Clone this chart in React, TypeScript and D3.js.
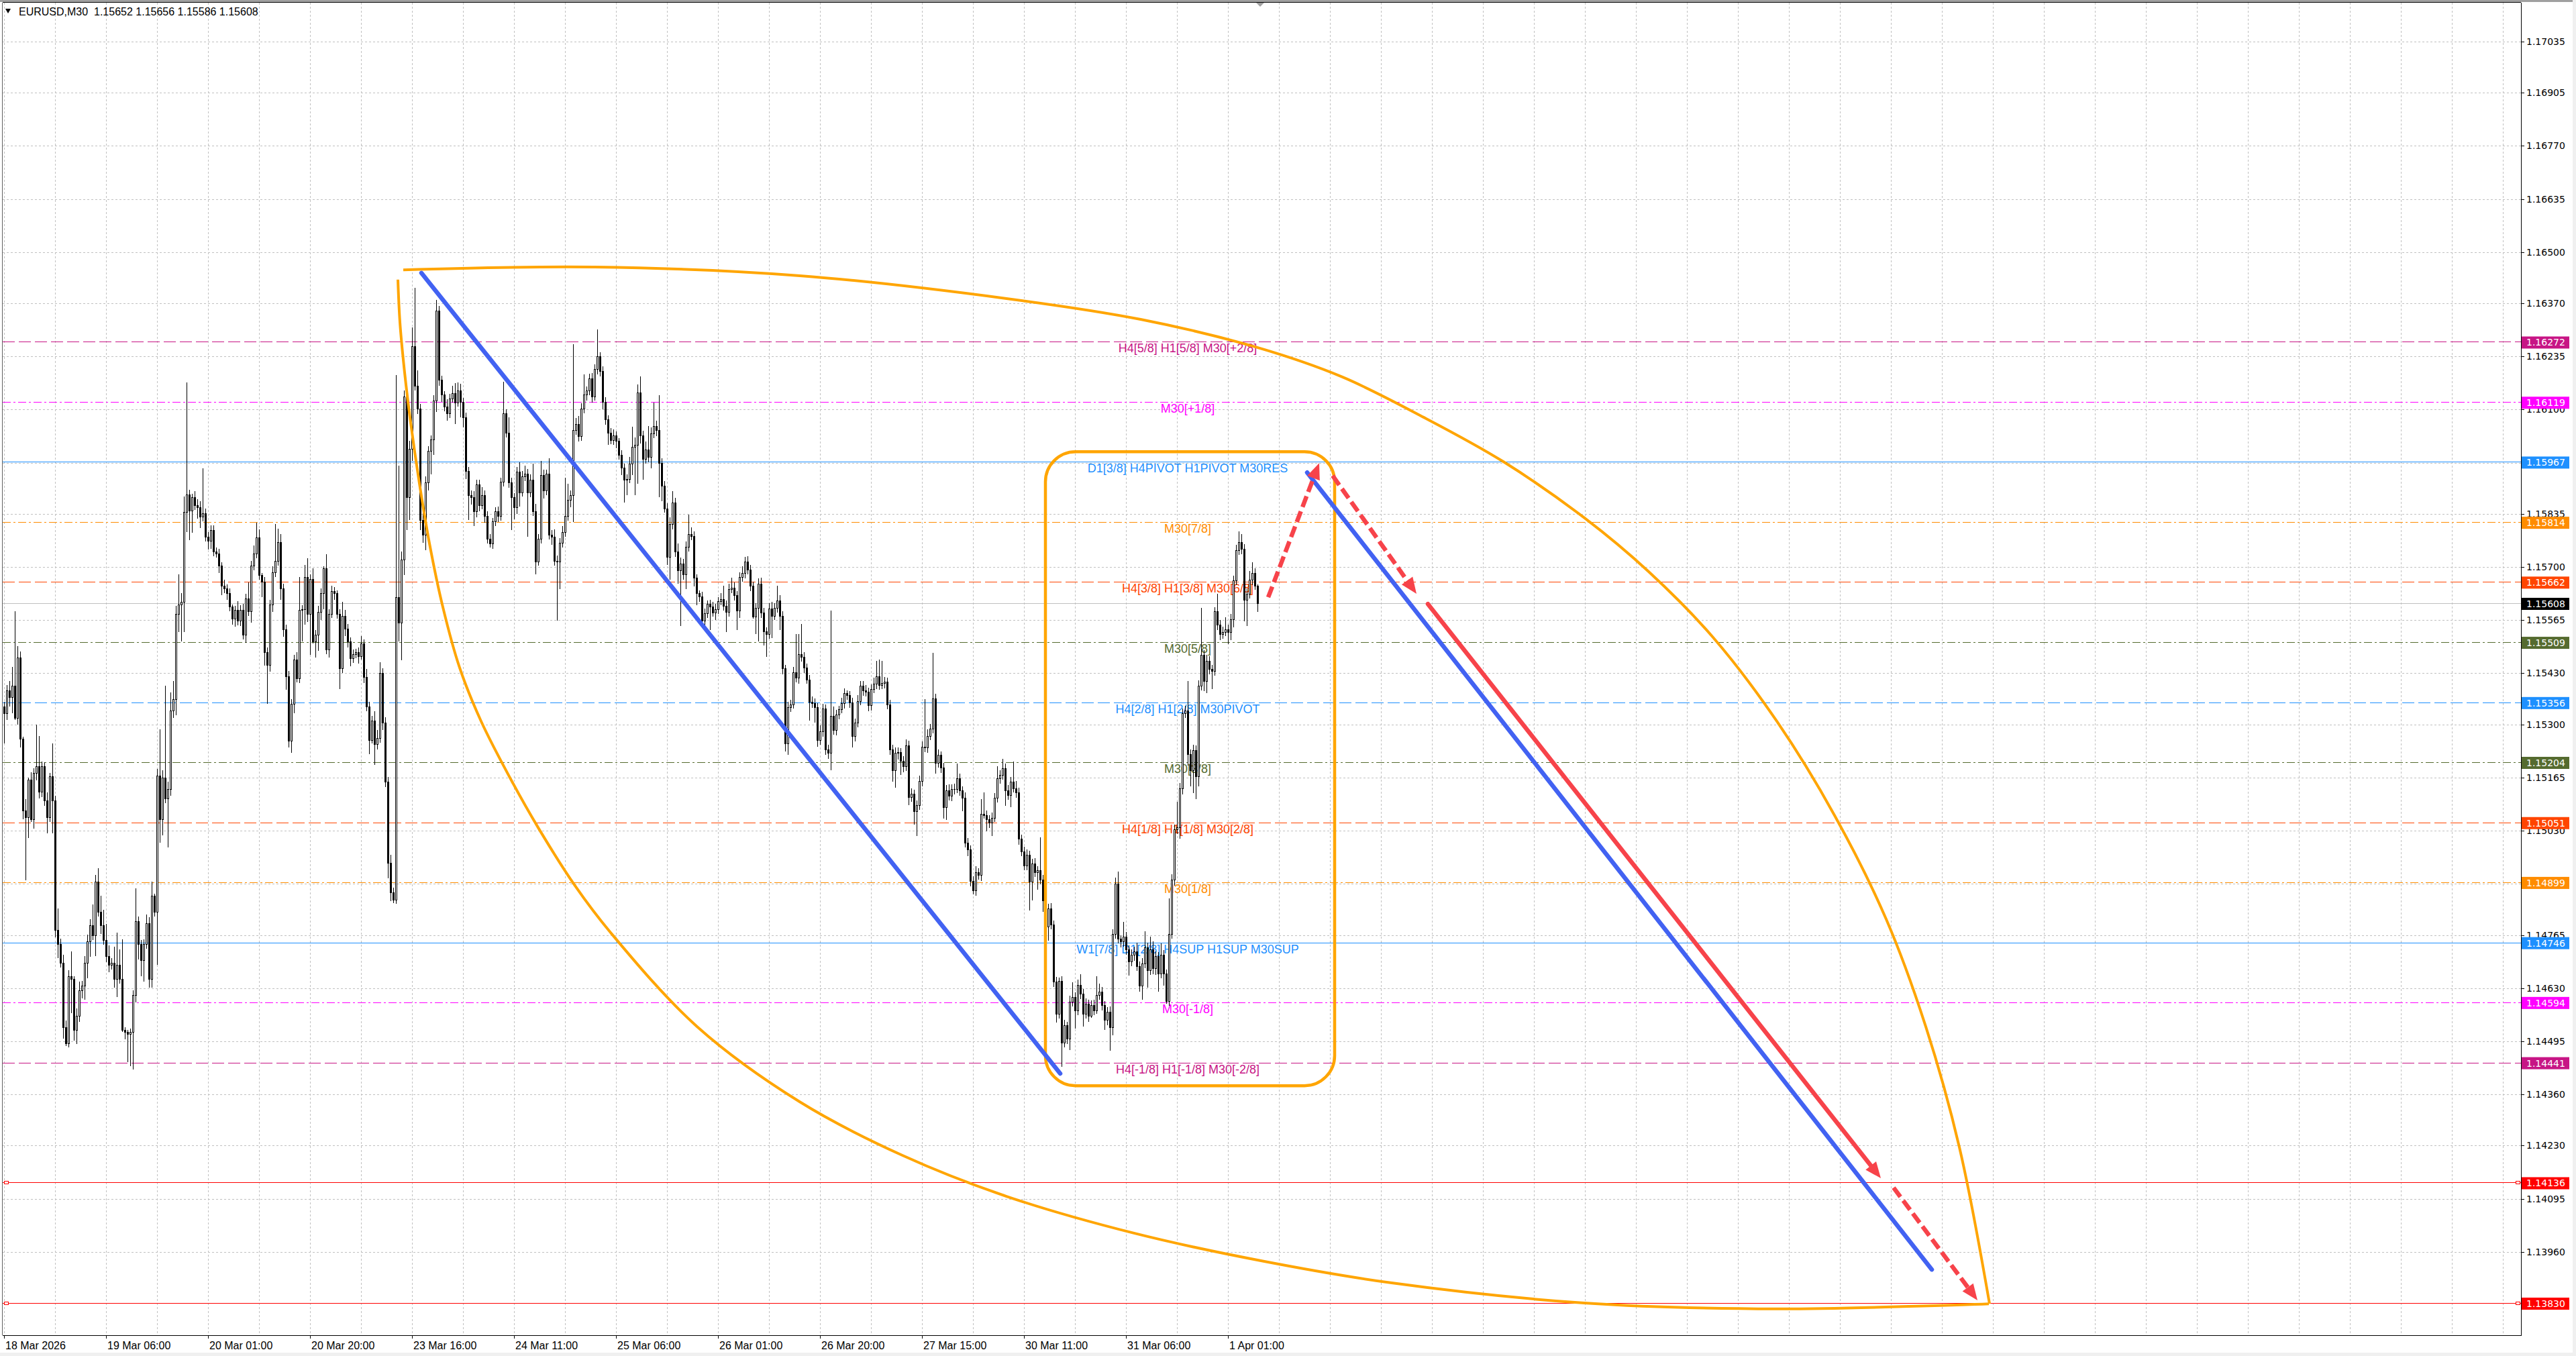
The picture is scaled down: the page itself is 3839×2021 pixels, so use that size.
import * as d3 from "d3";

const WIDTH = 3839;
const HEIGHT = 2021;
// plot frame: right edge is the price axis, bottom edge the time axis
const PL = 4, PT = 4, PR = 3757, PB = 1990;

const FONT = "'Liberation Sans', Arial, sans-serif";
const AXIS_FONT = "'DejaVu Sans', Verdana, sans-serif";

// M30 candles, prices in points (0.00001) above 1.14000
const BASE = 1.14;
const firstOpenPoint = 1346;
const closePoints = [
  1329,1387,1370,1399,1317,1470,1264,1082,1065,1159,1059,1176,1194,1129,1194,1106,1065,1168,1106,777,
  742,695,530,489,660,654,524,560,624,636,695,748,789,765,900,824,789,753,712,689,
  695,654,689,654,524,518,513,518,613,800,742,701,742,795,654,865,824,1170,1059,1164,
  1112,1135,1335,1364,1581,1605,1611,1839,1884,1843,1878,1857,1851,1828,1837,1777,1766,1793,1740,1734,
  1704,1652,1646,1634,1599,1569,1591,1564,1591,1528,1620,1587,1704,1734,1775,1679,1663,1484,1452,1605,
  1687,1716,1763,1646,1542,1423,1258,1352,1464,1417,1591,1593,1675,1581,1669,1511,1528,1586,1633,1697,
  1490,1580,1639,1633,1580,1442,1575,1543,1511,1468,1479,1484,1474,1506,1421,1346,1261,1309,1250,1266,
  1431,1304,1155,949,873,854,1623,1559,1719,2133,1878,2000,2261,2160,2102,1820,1782,1915,1995,2024,
  2123,2352,2176,2139,2107,2091,2128,2141,2117,2149,2120,2080,1944,1883,1878,1841,1910,1857,1883,1830,
  1772,1760,1816,1841,1830,1917,2091,2041,1915,1878,1851,1942,1889,1931,1937,1889,1921,1841,1713,1772,
  1933,1894,1937,1782,1777,1715,1713,1761,1788,1830,1871,1883,2048,2064,2032,2102,2139,2149,2179,2133,
  2203,2235,2197,2120,2075,2041,2022,2035,2020,1985,1953,1921,1923,1963,2006,2011,2144,2034,1975,1998,
  1980,2039,2058,2048,1965,1907,1848,1726,1809,1863,1740,1692,1708,1682,1752,1784,1778,1672,1633,1625,
  1564,1582,1606,1599,1584,1592,1613,1618,1602,1586,1643,1648,1628,1589,1674,1685,1713,1693,1652,1574,
  1596,1657,1584,1537,1530,1594,1576,1596,1615,1576,1442,1251,1344,1351,1432,1418,1478,1471,1445,1413,
  1357,1354,1344,1261,1283,1341,1237,1227,1322,1286,1325,1338,1354,1379,1375,1356,1271,1305,1359,1398,
  1386,1383,1349,1390,1403,1422,1400,1405,1408,1351,1237,1183,1227,1230,1207,1193,1246,1116,1124,1080,
  1095,1156,1244,1242,1271,1290,1366,1202,1222,1191,1090,1132,1119,1136,1135,1163,1132,1113,1000,982,
  903,879,925,917,1072,1070,1059,1051,1062,1113,1163,1171,1188,1132,1121,1154,1137,1127,1010,977,
  941,969,900,946,925,930,905,853,786,832,791,647,564,649,492,535,502,595,607,574,
  638,616,564,590,559,587,574,613,621,587,549,569,531,768,896,755,748,760,729,698,
  714,724,686,636,693,734,676,729,680,711,667,714,667,597,768,905,1034,1039,1137,1328,
  1335,1225,1183,1235,1168,1398,1477,1410,1462,1441,1436,1588,1553,1529,1534,1542,1534,1567,1666,1743,
  1763,1746,1617,1632,1668,1684,1652,1608,
];
// upper / lower shadow length in points
const wickUp = [
  12,13,23,47,189,29,15,5,29,5,20,12,105,76,12,10,22,8,84,12,
  55,14,20,18,16,64,6,18,22,12,16,18,16,53,18,34,40,40,40,26,
  12,40,82,40,100,6,6,10,12,83,12,10,12,22,16,35,5,17,118,20,
  235,20,46,46,20,76,22,40,284,12,8,14,16,16,114,12,12,12,12,10,
  12,8,16,10,12,6,10,22,12,16,12,40,12,20,37,20,6,12,12,12,
  15,94,35,20,12,12,12,12,12,20,84,10,30,47,12,28,12,15,12,5,
  35,12,14,10,8,12,37,16,12,10,12,8,12,18,10,20,12,12,24,20,
  27,12,14,12,20,12,564,335,20,15,30,20,48,149,40,12,20,15,12,10,
  14,26,12,10,8,20,12,20,26,20,16,10,12,10,12,15,12,12,20,12,
  12,12,8,10,12,9,80,10,40,12,10,12,24,12,20,12,14,42,20,12,
  36,15,10,40,12,18,14,12,16,96,40,12,218,14,20,14,51,10,12,14,
  12,69,10,12,12,10,12,14,10,8,12,10,12,16,50,18,20,40,12,20,
  60,16,59,14,89,12,12,14,18,29,12,20,16,12,12,49,16,12,10,8,
  12,12,8,10,12,14,10,16,34,12,14,24,12,10,12,16,13,14,12,10,
  12,14,15,12,10,14,18,12,37,14,12,10,14,12,14,98,52,77,12,10,
  12,14,12,10,14,12,10,12,267,24,12,10,14,12,8,10,12,10,16,12,
  12,14,10,12,16,40,42,57,12,10,12,12,14,12,10,12,16,12,14,10,
  12,14,12,120,16,12,115,12,14,10,12,14,16,12,14,38,12,10,14,12,
  10,12,14,10,39,55,12,10,14,12,30,12,24,12,14,12,52,20,12,10,
  12,14,10,12,14,10,83,12,10,12,14,10,12,8,12,14,10,16,38,12,
  14,27,12,14,10,12,14,48,20,12,10,12,14,12,14,30,10,39,12,10,
  14,12,21,12,14,40,12,31,20,12,10,30,12,10,90,14,12,64,14,12,
  13,75,12,14,12,14,119,12,14,12,10,10,44,12,14,30,12,14,12,14,
  27,20,12,14,21,28,12,4,
];
const wickDown = [
  77,17,24,41,6,18,23,23,161,53,6,23,18,17,13,12,41,13,82,18,
  35,12,29,6,10,88,28,36,16,20,35,40,38,12,53,12,22,12,16,18,
  12,22,47,12,6,18,71,82,95,20,40,40,55,12,22,22,12,135,59,40,
  12,124,17,18,40,47,94,77,50,74,56,12,28,29,12,12,22,20,12,10,
  20,24,12,18,12,15,20,12,14,12,20,12,29,12,12,12,40,35,100,18,
  20,12,12,30,20,35,17,30,24,10,12,80,40,20,105,6,41,41,20,40,
  12,20,10,16,12,53,12,18,16,20,12,10,20,10,16,12,37,10,53,14,
  12,18,14,40,22,8,10,48,96,40,85,58,30,12,14,26,21,40,20,60,
  40,30,16,20,12,20,12,10,53,10,40,25,20,63,20,37,14,16,10,18,
  12,10,14,12,16,12,12,12,14,85,30,16,36,10,12,112,12,12,32,10,
  12,20,12,12,21,12,149,69,12,12,12,20,69,12,14,12,12,16,12,16,
  10,14,12,20,14,30,10,12,18,12,20,58,38,10,30,124,99,20,54,12,
  14,29,12,16,88,40,10,20,59,14,14,35,142,14,39,12,10,22,30,14,
  4,14,12,59,10,18,12,10,12,51,12,10,14,49,18,12,14,12,14,5,
  44,85,14,36,59,12,56,10,12,36,15,19,29,12,10,12,14,12,14,10,
  47,12,40,17,12,14,15,14,44,12,14,12,10,14,12,14,29,14,12,10,
  14,12,16,14,10,14,12,10,14,12,14,29,44,16,36,14,12,21,12,34,
  63,12,14,12,14,10,12,27,12,14,29,32,12,14,12,10,14,33,12,16,
  14,10,14,12,14,10,30,14,35,10,12,14,12,38,12,31,10,14,16,12,
  11,12,73,47,12,45,12,30,14,35,12,14,21,12,62,12,14,30,12,46,
  12,14,31,12,14,5,12,10,12,14,26,14,60,20,12,12,14,12,14,36,
  12,14,12,15,36,12,45,12,14,16,46,12,30,7,12,12,14,12,30,14,
  12,30,40,57,57,25,12,25,30,14,46,12,14,15,12,10,30,20,20,12,
  12,14,55,67,12,14,10,22,
];

const header = "EURUSD,M30  1.15652 1.15656 1.15586 1.15608";

const priceTicks = [
  "1.17035","1.16905","1.16770","1.16635","1.16500","1.16370","1.16235","1.16100",
  "1.15965","1.15835","1.15700","1.15565","1.15430","1.15300","1.15165","1.15030",
  "1.14895","1.14765","1.14630","1.14495","1.14360","1.14230","1.14095","1.13960","1.13830",
];

const timeLabels = [
  "18 Mar 2026","19 Mar 06:00","20 Mar 01:00","20 Mar 20:00","23 Mar 16:00","24 Mar 11:00",
  "25 Mar 06:00","26 Mar 01:00","26 Mar 20:00","27 Mar 15:00","30 Mar 11:00","31 Mar 06:00","1 Apr 01:00",
];
const BARS_PER_LABEL = 38;
const BARS_PER_GRID = 19;

// Murrey-style levels drawn by the indicator
const levelPrices = [
  1.16272, 1.16119, 1.15967, 1.15814, 1.15662, 1.15509, 1.15356,
  1.15204, 1.15051, 1.14899, 1.14746, 1.14594, 1.14441,
];
const levelLabels = [
  "H4[5/8] H1[5/8] M30[+2/8]", "M30[+1/8]", "D1[3/8] H4PIVOT H1PIVOT M30RES", "M30[7/8]",
  "H4[3/8] H1[3/8] M30[6/8]", "M30[5/8]", "H4[2/8] H1[2/8] M30PIVOT", "M30[3/8]",
  "H4[1/8] H1[1/8] M30[2/8]", "M30[1/8]", "W1[7/8] D1[2/8] H4SUP H1SUP M30SUP", "M30[-1/8]",
  "H4[-1/8] H1[-1/8] M30[-2/8]",
];
const levelKinds = [
  "violet", "magenta", "pivot", "orange", "orangeRed", "olive", "blueDash",
  "olive", "orangeRed", "orange", "pivot", "magenta", "violet",
];
const labelBar = 441;

const redLevels = [1.14136, 1.1383];
const bidPrice = 1.15608;

// hand-drawn objects, anchored as [bar, price]
const trendLines = [
  [[155.5, 1.16447], [393.5, 1.14413]],
  [[485.5, 1.1594], [718.25, 1.13915]],
];
const arrowLines = [
  [[471, 1.15623], [490, 1.15964]],
  [[495, 1.15932], [526.25, 1.15632]],
  [[530.5, 1.15606], [699.25, 1.14147]],
  [[704, 1.14123], [735.25, 1.13837]],
];
const arrowDashed = [true, true, false, true];
const boxBars = [388, 495.75];
const boxPrices = [1.15993, 1.14382];
const upperArc = [
  [148.75,1.16455],[220,1.16462],[296.5,1.1644],[373.5,1.16382],[423.5,1.16329],[466.75,1.16258],
  [498.5,1.16183],[529,1.1608],[558.5,1.15968],[588.75,1.15825],[612.75,1.15688],[636.75,1.15521],
  [660.5,1.15308],[682,1.15069],[701.25,1.14805],[716,1.14532],[728.5,1.14226],[739.75,1.13828],
];
const lowerArc = [
  [146.75,1.1643],[147.5,1.16322],[149.25,1.16194],[151.5,1.16067],[154.75,1.15913],[158.5,1.1576],
  [163.5,1.15598],[169.75,1.15444],[177.75,1.15308],[189.25,1.15155],[199.25,1.15035],[212.75,1.1489],
  [226,1.14771],[258.25,1.14532],[296.5,1.14341],[334.75,1.14205],[373.5,1.14101],[421.25,1.14007],
  [469.25,1.13936],[517,1.13881],[588.75,1.1383],[660.5,1.13815],[739.5,1.13828],
];

const KIND_STYLE: Record<string, { color: string; dash?: string }> = {
  violet: { color: "#C71585", dash: "18 6" },
  magenta: { color: "#FF00FF", dash: "12 4 3 4" },
  pivot: { color: "#1E90FF" },
  orange: { color: "#FF8C00", dash: "12 4 3 4" },
  orangeRed: { color: "#FF4500", dash: "18 6" },
  olive: { color: "#556B2F", dash: "12 4 3 4" },
  blueDash: { color: "#1E90FF", dash: "18 6" },
};
const ORANGE = "#FFA500";
const BLUE = "#4262F2";
const RED = "#F7434A";

export default function App() {
  const x = d3.scaleLinear().domain([0, 467]).range([6, 6 + 4 * 467]);
  const y = d3.scaleLinear().domain([1.1383, 1.17035]).range([1942, 61.9]);

  const bars = closePoints.map((c, i) => {
    const o = i === 0 ? firstOpenPoint : closePoints[i - 1];
    return {
      i,
      o: BASE + o / 1e5,
      c: BASE + c / 1e5,
      h: BASE + (Math.max(o, c) + wickUp[i]) / 1e5,
      l: BASE + (Math.min(o, c) - wickDown[i]) / 1e5,
    };
  });

  const gridX: number[] = [];
  for (let b = 0; x(b) < PR; b += BARS_PER_GRID) gridX.push(Math.round(x(b)) + 0.5);

  const arc = d3.line<number[]>()
    .x(d => x(d[0]))
    .y(d => y(d[1]))
    .curve(d3.curveCatmullRom.alpha(0.5));

  const arrow = (seg: number[][], dashed: boolean, k: number) => {
    const x0 = x(seg[0][0]), y0 = y(seg[0][1]);
    const x1 = x(seg[1][0]), y1 = y(seg[1][1]);
    const len = Math.hypot(x1 - x0, y1 - y0);
    const ux = (x1 - x0) / len, uy = (y1 - y0) / len;
    const head = 24, half = 10;
    const bx = x1 - ux * head, by = y1 - uy * head;
    const pts = [
      [x1, y1],
      [bx - uy * half, by + ux * half],
      [bx + uy * half, by - ux * half],
    ];
    return (
      <g key={k}>
        <line x1={x0} y1={y0} x2={bx + ux * 2} y2={by + uy * 2} stroke={RED} strokeWidth={6.5}
          strokeLinecap={dashed ? "butt" : "round"} strokeDasharray={dashed ? "17 7" : undefined} />
        <polygon points={pts.map(p => p.join(",")).join(" ")} fill={RED} />
      </g>
    );
  };

  const boxes = [
    ...levelPrices.map((p, i) => ({ p, color: KIND_STYLE[levelKinds[i]].color })),
    { p: bidPrice, color: "#000000" },
    ...redLevels.map(p => ({ p, color: "#FF0000" })),
  ];

  return (
    <svg width={WIDTH} height={HEIGHT} viewBox={`0 0 ${WIDTH} ${HEIGHT}`}
      style={{ position: "fixed", left: 0, top: 0, display: "block", background: "#fff" }}>
      <rect x={0} y={0} width={WIDTH} height={HEIGHT} fill="#ffffff" />
      <rect x={0} y={0} width={WIDTH} height={3} fill="#A0A0A0" />
      <rect x={0} y={2016} width={WIDTH} height={5} fill="#F0F0F0" />
      <rect x={3834} y={0} width={5} height={HEIGHT} fill="#F0F0F0" />

      {/* grid */}
      <g stroke="#C0C0C0" strokeDasharray="3 3" shapeRendering="crispEdges">
        {gridX.map((gx, k) => <line key={k} x1={gx} x2={gx} y1={PT} y2={PB} />)}
        {priceTicks.map(t => {
          const gy = Math.round(y(+t)) + 0.5;
          return <line key={t} x1={PL} x2={PR} y1={gy} y2={gy} />;
        })}
      </g>

      {/* indicator levels */}
      <g shapeRendering="crispEdges">
        {levelPrices.map((p, i) => {
          const s = KIND_STYLE[levelKinds[i]];
          const ly = Math.round(y(p)) + 0.5;
          return <line key={p} x1={PL} x2={PR} y1={ly} y2={ly} stroke={s.color} strokeDasharray={s.dash} />;
        })}
        {redLevels.map(p => {
          const ly = Math.round(y(p)) + 0.5;
          return (
            <g key={p}>
              <line x1={PL} x2={PR} y1={ly} y2={ly} stroke="#FF0000" />
              <rect x={6.5} y={ly - 2} width={6} height={4} fill="#fff" stroke="#FF0000" />
              <rect x={3749.5} y={ly - 2} width={6} height={4} fill="#fff" stroke="#FF0000" />
            </g>
          );
        })}
        <line x1={PL} x2={PR} y1={Math.round(y(bidPrice)) + 0.5} y2={Math.round(y(bidPrice)) + 0.5} stroke="#C0C0C0" />
      </g>
      <g fontFamily={FONT} fontSize={18} textAnchor="middle">
        {levelPrices.map((p, i) => (
          <text key={p} x={x(labelBar)} y={y(p) + 16} fill={KIND_STYLE[levelKinds[i]].color}>{levelLabels[i]}</text>
        ))}
      </g>

      {/* candles */}
      <g shapeRendering="crispEdges">
        {bars.map(b => {
          const cx = Math.round(x(b.i));
          const top = Math.round(y(Math.max(b.o, b.c)));
          const bot = Math.round(y(Math.min(b.o, b.c)));
          return (
            <g key={b.i}>
              <line x1={cx + 0.5} x2={cx + 0.5} y1={Math.round(y(b.h))} y2={Math.round(y(b.l))} stroke="#000" />
              {bot - top < 1
                ? <line x1={cx - 1} x2={cx + 2} y1={top + 0.5} y2={top + 0.5} stroke="#000" />
                : <rect x={cx - 0.5} y={top + 0.5} width={2} height={bot - top}
                    fill={b.c >= b.o ? "#fff" : "#000"} stroke="#000" />}
            </g>
          );
        })}
      </g>

      {/* drawn objects */}
      <rect x={x(boxBars[0])} y={y(boxPrices[0])} width={x(boxBars[1]) - x(boxBars[0])}
        height={y(boxPrices[1]) - y(boxPrices[0])} rx={45} ry={45} fill="none" stroke={ORANGE} strokeWidth={4.5} />
      <path d={arc(upperArc) ?? ""} fill="none" stroke={ORANGE} strokeWidth={4} />
      <path d={arc(lowerArc) ?? ""} fill="none" stroke={ORANGE} strokeWidth={4} />
      {trendLines.map((seg, k) => (
        <line key={k} x1={x(seg[0][0])} y1={y(seg[0][1])} x2={x(seg[1][0])} y2={y(seg[1][1])}
          stroke={BLUE} strokeWidth={6.5} strokeLinecap="round" />
      ))}
      {arrowLines.map((seg, k) => arrow(seg, arrowDashed[k], k))}

      {/* frame and axes */}
      <g shapeRendering="crispEdges" stroke="#000">
        <line x1={PL - 0.5} x2={PL - 0.5} y1={PT} y2={PB} stroke="#606060" />
        <line x1={PL} x2={PR} y1={PT - 0.5} y2={PT - 0.5} />
        <line x1={PR + 0.5} x2={PR + 0.5} y1={PT} y2={PB + 1} />
        <line x1={PL} x2={PR + 1} y1={PB + 0.5} y2={PB + 0.5} />
        {priceTicks.map(t => {
          const gy = Math.round(y(+t)) + 0.5;
          return <line key={t} x1={PR} x2={PR + 5} y1={gy} y2={gy} />;
        })}
        {timeLabels.map((_, k) => {
          const tx = Math.round(x(k * BARS_PER_LABEL)) + 0.5;
          return <line key={k} x1={tx} x2={tx} y1={PB} y2={PB + 5} />;
        })}
      </g>
      <g fontFamily={AXIS_FONT} fontSize={14} fill="#000">
        {priceTicks.map(t => (
          <text key={t} x={3765} y={y(+t)} dominantBaseline="central">{t}</text>
        ))}
      </g>
      <g fontFamily={AXIS_FONT} fontSize={14}>
        {boxes.map(bx => (
          <g key={bx.p}>
            <rect x={3758} y={y(bx.p) - 8} width={71} height={18} fill={bx.color} />
            <text x={3765} y={y(bx.p) + 1} dominantBaseline="central" fill="#fff">{bx.p.toFixed(5)}</text>
          </g>
        ))}
      </g>
      <g fontFamily={FONT} fontSize={16} fill="#000">
        {timeLabels.map((t, k) => (
          <text key={t} x={Math.round(x(k * BARS_PER_LABEL)) + 2} y={2011}>{t}</text>
        ))}
      </g>

      {/* header */}
      <polygon points="8,13 16,13 12,20" fill="#000" />
      <text x={28} y={23} fontFamily={FONT} fontSize={16} fill="#000" style={{ whiteSpace: "pre" }}>{header}</text>
      <polygon points={`${x(468) - 6},4 ${x(468) + 6},4 ${x(468)},10`} fill="#A0A0A0" />
    </svg>
  );
}
